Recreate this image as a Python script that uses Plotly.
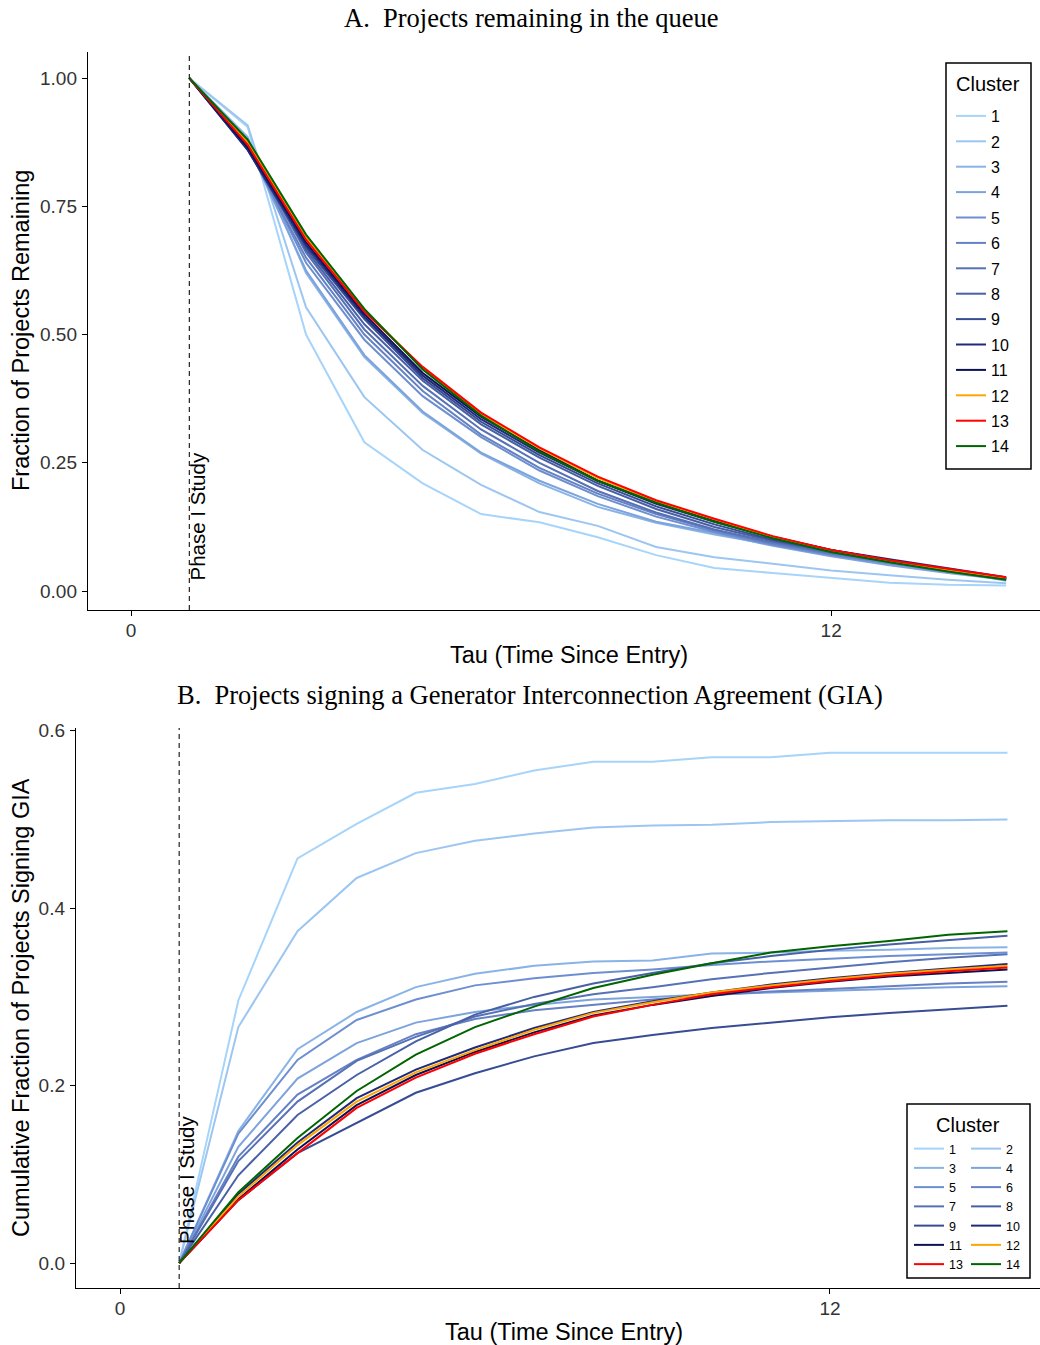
import plotly.graph_objects as go

W, H = 1040, 1345
SANS = "Liberation Sans, Arial, Helvetica, sans-serif"
SERIF = "Liberation Serif, Times New Roman, serif"

# ---------------- data ----------------
tau = list(range(1, 16))
clusters = [str(i) for i in range(1, 15)]
colors = ["#A6D4FA", "#9CC6F1", "#88B3E7", "#7DA3DC", "#6D8FD0", "#6581C4",
          "#5671B5", "#4860A6", "#374C93", "#1F2B7A", "#0C1055",
          "#FFA500", "#FF0000", "#006400"]

# Panel A: fraction of projects remaining
rem_1 = [1.0, 0.905, 0.50, 0.29, 0.21, 0.15, 0.134, 0.105, 0.07, 0.045, 0.035, 0.025, 0.016, 0.012, 0.011]
rem_2 = [1.0, 0.908, 0.553, 0.378, 0.275, 0.207, 0.154, 0.127, 0.086, 0.066, 0.053, 0.040, 0.031, 0.022, 0.015]
rem_3 = [1.0, 0.885, 0.62, 0.456, 0.347, 0.268, 0.21, 0.164, 0.133, 0.11, 0.09, 0.072, 0.055, 0.04, 0.02]
rem_4 = [1.0, 0.87, 0.625, 0.46, 0.35, 0.27, 0.215, 0.17, 0.135, 0.113, 0.088, 0.068, 0.05, 0.035, 0.022]
rem_5 = [1.0, 0.87, 0.64, 0.49, 0.38, 0.30, 0.235, 0.185, 0.145, 0.115, 0.09, 0.07, 0.053, 0.037, 0.022]
rem_6 = [1.0, 0.865, 0.65, 0.50, 0.39, 0.305, 0.24, 0.19, 0.15, 0.118, 0.092, 0.072, 0.055, 0.038, 0.023]
rem_7 = [1.0, 0.87, 0.66, 0.51, 0.40, 0.315, 0.25, 0.195, 0.153, 0.12, 0.095, 0.074, 0.057, 0.04, 0.024]
rem_8 = [1.0, 0.865, 0.665, 0.52, 0.41, 0.325, 0.26, 0.205, 0.16, 0.125, 0.098, 0.076, 0.058, 0.041, 0.025]
rem_9 = [1.0, 0.86, 0.67, 0.53, 0.415, 0.33, 0.265, 0.21, 0.165, 0.13, 0.10, 0.078, 0.06, 0.043, 0.026]
rem_10 = [1.0, 0.86, 0.675, 0.535, 0.42, 0.335, 0.27, 0.215, 0.17, 0.135, 0.105, 0.08, 0.062, 0.045, 0.027]
rem_11 = [1.0, 0.865, 0.68, 0.54, 0.425, 0.34, 0.275, 0.215, 0.172, 0.137, 0.106, 0.08, 0.06, 0.042, 0.025]
rem_12 = [1.0, 0.875, 0.69, 0.548, 0.435, 0.345, 0.278, 0.22, 0.175, 0.14, 0.105, 0.079, 0.059, 0.041, 0.026]
rem_13 = [1.0, 0.87, 0.685, 0.545, 0.437, 0.348, 0.28, 0.223, 0.177, 0.141, 0.107, 0.08, 0.06, 0.043, 0.027]
rem_14 = [1.0, 0.88, 0.695, 0.55, 0.432, 0.342, 0.272, 0.215, 0.172, 0.135, 0.103, 0.076, 0.056, 0.038, 0.022]

# Panel B: cumulative fraction signing GIA
gia_1 = [0, 0.296, 0.456, 0.495, 0.530, 0.540, 0.555, 0.565, 0.565, 0.570, 0.570, 0.575, 0.575, 0.575, 0.575]
gia_2 = [0, 0.266, 0.374, 0.434, 0.462, 0.476, 0.484, 0.491, 0.493, 0.494, 0.497, 0.498, 0.499, 0.499, 0.500]
gia_3 = [0, 0.149, 0.241, 0.283, 0.311, 0.326, 0.335, 0.340, 0.341, 0.349, 0.350, 0.352, 0.353, 0.355, 0.356]
gia_4 = [0, 0.131, 0.208, 0.248, 0.271, 0.283, 0.291, 0.297, 0.300, 0.303, 0.305, 0.307, 0.309, 0.311, 0.312]
gia_5 = [0, 0.146, 0.229, 0.274, 0.297, 0.313, 0.321, 0.327, 0.331, 0.336, 0.340, 0.343, 0.346, 0.348, 0.350]
gia_6 = [0, 0.120, 0.190, 0.229, 0.258, 0.275, 0.285, 0.291, 0.297, 0.302, 0.306, 0.309, 0.312, 0.315, 0.317]
gia_7 = [0, 0.115, 0.182, 0.228, 0.255, 0.278, 0.292, 0.303, 0.311, 0.320, 0.327, 0.333, 0.339, 0.344, 0.348]
gia_8 = [0, 0.099, 0.167, 0.212, 0.250, 0.280, 0.300, 0.315, 0.327, 0.338, 0.346, 0.353, 0.359, 0.364, 0.369]
gia_9 = [0, 0.071, 0.124, 0.158, 0.192, 0.214, 0.233, 0.248, 0.257, 0.265, 0.271, 0.277, 0.282, 0.286, 0.290]
gia_10 = [0, 0.078, 0.136, 0.186, 0.218, 0.243, 0.265, 0.283, 0.295, 0.305, 0.314, 0.321, 0.327, 0.332, 0.337]
gia_11 = [0, 0.072, 0.128, 0.178, 0.212, 0.238, 0.260, 0.279, 0.291, 0.301, 0.310, 0.317, 0.323, 0.327, 0.331]
gia_12 = [0, 0.075, 0.133, 0.182, 0.215, 0.240, 0.263, 0.282, 0.294, 0.305, 0.313, 0.320, 0.326, 0.331, 0.335]
gia_13 = [0, 0.071, 0.124, 0.175, 0.209, 0.236, 0.258, 0.278, 0.291, 0.303, 0.311, 0.318, 0.324, 0.329, 0.333]
gia_14 = [0, 0.080, 0.141, 0.194, 0.235, 0.266, 0.289, 0.310, 0.325, 0.338, 0.350, 0.357, 0.363, 0.370, 0.374]

remaining = [rem_1, rem_2, rem_3, rem_4, rem_5, rem_6, rem_7, rem_8, rem_9, rem_10, rem_11, rem_12, rem_13, rem_14]
signing = [gia_1, gia_2, gia_3, gia_4, gia_5, gia_6, gia_7, gia_8, gia_9, gia_10, gia_11, gia_12, gia_13, gia_14]

xticks = [0, 12]
yticks_a = [0, 0.25, 0.5, 0.75, 1.0]
yticklabels_a = ["0.00", "0.25", "0.50", "0.75", "1.00"]
yticks_b = [0, 0.2, 0.4, 0.6]
yticklabels_b = ["0.0", "0.2", "0.4", "0.6"]
phase_tau = 1

# ---------------- figure ----------------
fig = go.Figure()

for i, cl in enumerate(clusters):
    fig.add_trace(go.Scatter(
        x=tau, y=remaining[i], mode="lines", name=cl,
        line=dict(color=colors[i], width=2),
        xaxis="x", yaxis="y", legend="legend", legendgroup="a" + cl))

for i, cl in enumerate(clusters):
    fig.add_trace(go.Scatter(
        x=tau, y=signing[i], mode="lines", name=cl,
        line=dict(color=colors[i], width=2),
        xaxis="x2", yaxis="y2",
        legend="legend2" if i % 2 == 0 else "legend3",
        legendgroup="b" + cl))


def px_x(p):
    return p / W


def px_y(p):
    return 1 - p / H


axis_common = dict(showline=True, linecolor="black", linewidth=1.4, mirror=False,
                   showgrid=False, zeroline=False, ticks="outside", ticklen=5,
                   tickwidth=1.3, tickcolor="black", automargin=False,
                   tickfont=dict(family=SANS, size=19, color="#333333"))
xaxis_common = dict(axis_common, ticklabelstandoff=-2)
yaxis_common = dict(axis_common, ticklabelstandoff=1)

fig.update_layout(
    width=W, height=H,
    margin=dict(l=0, r=0, t=0, b=0),
    plot_bgcolor="white", paper_bgcolor="white",
    font=dict(family=SANS, color="black"),
    xaxis=dict(domain=[px_x(88), 1.0], anchor="y", range=[-0.737, 15.58],
               tickvals=xticks, ticktext=[str(v) for v in xticks], **xaxis_common),
    yaxis=dict(domain=[px_y(610), px_y(52)], anchor="x", range=[-0.037, 1.051],
               tickvals=yticks_a, ticktext=yticklabels_a, **yaxis_common),
    xaxis2=dict(domain=[px_x(76), 1.0], anchor="y2", range=[-0.744, 15.55],
                tickvals=xticks, ticktext=[str(v) for v in xticks], **xaxis_common),
    yaxis2=dict(domain=[px_y(1288), px_y(728)], anchor="x2", range=[-0.028, 0.603],
                tickvals=yticks_b, ticktext=yticklabels_b, **yaxis_common),
    legend=dict(x=px_x(951), y=px_y(99), xanchor="left", yanchor="top",
                borderwidth=0, bgcolor="rgba(0,0,0,0)",
                font=dict(family=SANS, size=16, color="black"),
                traceorder="grouped", tracegroupgap=1.6, itemwidth=30),
    legend2=dict(x=px_x(909), y=px_y(1134), xanchor="left", yanchor="top",
                 borderwidth=0, bgcolor="rgba(0,0,0,0)",
                 font=dict(family=SANS, size=12.5, color="black"),
                 traceorder="normal", itemwidth=30),
    legend3=dict(x=px_x(966), y=px_y(1134), xanchor="left", yanchor="top",
                 borderwidth=0, bgcolor="rgba(0,0,0,0)",
                 font=dict(family=SANS, size=12.5, color="black"),
                 traceorder="normal", itemwidth=30),
)

# dashed Phase I lines
for xr, yr in (("x", "y domain"), ("x2", "y2 domain")):
    fig.add_shape(type="line", xref=xr, yref=yr, x0=phase_tau, x1=phase_tau, y0=0, y1=1,
                  line=dict(color="#222222", width=1.2, dash="5px,4px"))

# legend boxes
fig.add_shape(type="rect", xref="paper", yref="paper",
              x0=px_x(946), x1=px_x(1031), y0=px_y(469), y1=px_y(63),
              line=dict(color="black", width=1.5), fillcolor="white", layer="above")
fig.add_shape(type="rect", xref="paper", yref="paper",
              x0=px_x(907), x1=px_x(1030), y0=px_y(1278), y1=px_y(1104),
              line=dict(color="black", width=1.5), fillcolor="white", layer="above")

ann = []
ann.append(dict(text="A.  Projects remaining in the queue", x=px_x(531), y=px_y(18),
                xref="paper", yref="paper", showarrow=False, xanchor="center", yanchor="middle",
                font=dict(family=SERIF, size=26.5, color="black")))
ann.append(dict(text="B.  Projects signing a Generator Interconnection Agreement (GIA)",
                x=px_x(530), y=px_y(695), xref="paper", yref="paper", showarrow=False,
                xanchor="center", yanchor="middle",
                font=dict(family=SERIF, size=26.5, color="black")))
ann.append(dict(text="Tau (Time Since Entry)", x=px_x(569), y=px_y(655),
                xref="paper", yref="paper", showarrow=False, xanchor="center", yanchor="middle",
                font=dict(family=SANS, size=23.5, color="black")))
ann.append(dict(text="Tau (Time Since Entry)", x=px_x(564), y=px_y(1332),
                xref="paper", yref="paper", showarrow=False, xanchor="center", yanchor="middle",
                font=dict(family=SANS, size=23.5, color="black")))
ann.append(dict(text="Fraction of Projects Remaining", x=px_x(21), y=px_y(331),
                xref="paper", yref="paper", showarrow=False, textangle=-90,
                xanchor="center", yanchor="middle",
                font=dict(family=SANS, size=23.5, color="black")))
ann.append(dict(text="Cumulative Fraction of Projects Signing GIA", x=px_x(21), y=px_y(1008),
                xref="paper", yref="paper", showarrow=False, textangle=-90,
                xanchor="center", yanchor="middle",
                font=dict(family=SANS, size=23.5, color="black")))
ann.append(dict(text="Phase I Study", x=phase_tau, y=0.146, xref="x", yref="y",
                showarrow=False, textangle=-90, xshift=8, xanchor="center", yanchor="middle",
                font=dict(family=SANS, size=20.5, color="black")))
ann.append(dict(text="Phase I Study", x=phase_tau, y=0.094, xref="x2", yref="y2",
                showarrow=False, textangle=-90, xshift=8, xanchor="center", yanchor="middle",
                font=dict(family=SANS, size=20.5, color="black")))
ann.append(dict(text="Cluster", x=px_x(988), y=px_y(84), xref="paper", yref="paper",
                showarrow=False, xanchor="center", yanchor="middle",
                font=dict(family=SANS, size=20, color="black")))
ann.append(dict(text="Cluster", x=px_x(968), y=px_y(1125), xref="paper", yref="paper",
                showarrow=False, xanchor="center", yanchor="middle",
                font=dict(family=SANS, size=20, color="black")))
fig.update_layout(annotations=ann)

fig.write_html("out.html")
